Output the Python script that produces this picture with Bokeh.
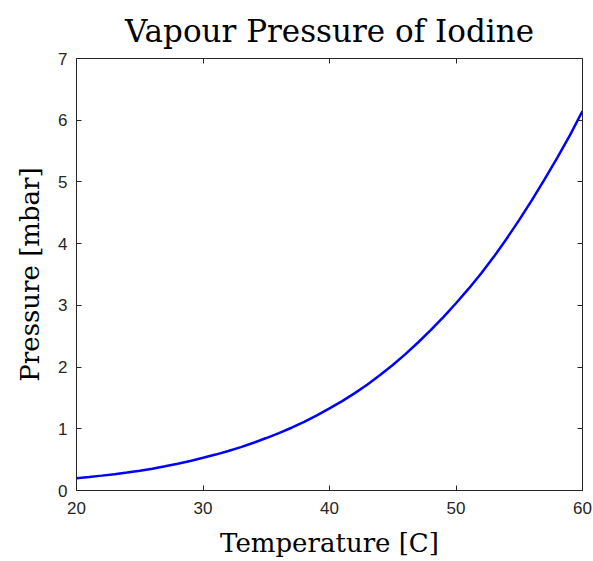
from bokeh.plotting import figure
from bokeh.models import LinearAxis, FixedTicker, ColumnDataSource
from bokeh.embed import file_html
from bokeh.resources import INLINE

temperature_c = [20, 21, 22, 23, 24, 25, 26, 27, 28, 29, 30, 31, 32, 33, 34, 35, 36, 37, 38, 39, 40,
                 41, 42, 43, 44, 45, 46, 47, 48, 49, 50, 51, 52, 53, 54, 55, 56, 57, 58, 59, 60]
pressure_mbar = [0.200, 0.220, 0.241, 0.265, 0.291, 0.320, 0.354, 0.392, 0.433, 0.479, 0.530,
                 0.582, 0.640, 0.703, 0.773, 0.850, 0.930, 1.017, 1.112, 1.216, 1.330,
                 1.449, 1.578, 1.718, 1.870, 2.034, 2.210, 2.398, 2.598, 2.810, 3.034,
                 3.270, 3.520, 3.790, 4.080, 4.385, 4.705, 5.040, 5.390, 5.755, 6.150]
x_ticks = [20, 30, 40, 50, 60]
y_ticks = [0, 1, 2, 3, 4, 5, 6, 7]

src = ColumnDataSource(dict(x=temperature_c, y=pressure_mbar))

AX = "#262626"
SERIF = "DejaVu Serif"
SANS = "Liberation Sans"

p = figure(width=593, height=561, x_range=(20, 60), y_range=(0, 7),
           output_backend="svg", toolbar_location=None,
           min_border_left=76, min_border_right=11, min_border_top=58, min_border_bottom=71,
           title="Vapour Pressure of Iodine")
p.title.text_font = SERIF
p.title.text_font_size = "31px"
p.title.text_font_style = "normal"
p.title.align = "center"
p.title.text_color = "black"
p.title.standoff = 20

p.xgrid.visible = False
p.ygrid.visible = False
p.outline_line_color = None
p.background_fill_color = "white"
p.border_fill_color = "white"

p.line("x", "y", source=src, line_color="#0000FF", line_width=2.5)

def style(ax, ticks, labels=True):
    ax.ticker = FixedTicker(ticks=ticks)
    ax.axis_line_color = AX
    ax.axis_line_width = 1
    ax.major_tick_line_color = AX
    ax.major_tick_in = 5
    ax.major_tick_out = 0
    ax.minor_tick_line_color = None
    ax.major_label_text_font = SANS
    ax.major_label_text_font_size = "17px"
    ax.major_label_text_color = AX
    if not labels:
        ax.major_label_text_alpha = 0
        ax.major_label_text_font_size = "0px"
        ax.major_label_standoff = 0

xa = p.xaxis[0]
style(xa, x_ticks)
xa.axis_label = "Temperature [C]"
xa.axis_label_text_font = SERIF
xa.axis_label_text_font_size = "26px"
xa.axis_label_text_font_style = "normal"
xa.axis_label_text_color = "black"
xa.axis_label_standoff = 11
xa.major_label_standoff = 11

ya = p.yaxis[0]
style(ya, y_ticks)
ya.axis_label = "Pressure [mbar]"
ya.axis_label_text_font = SERIF
ya.axis_label_text_font_size = "26px"
ya.axis_label_text_font_style = "normal"
ya.axis_label_text_color = "black"
ya.axis_label_standoff = 10
ya.major_label_standoff = 9

top = LinearAxis()
style(top, x_ticks, labels=False)
p.add_layout(top, "above")
right = LinearAxis()
style(right, y_ticks, labels=False)
p.add_layout(right, "right")

open("out.html", "w").write(file_html(p, INLINE))
